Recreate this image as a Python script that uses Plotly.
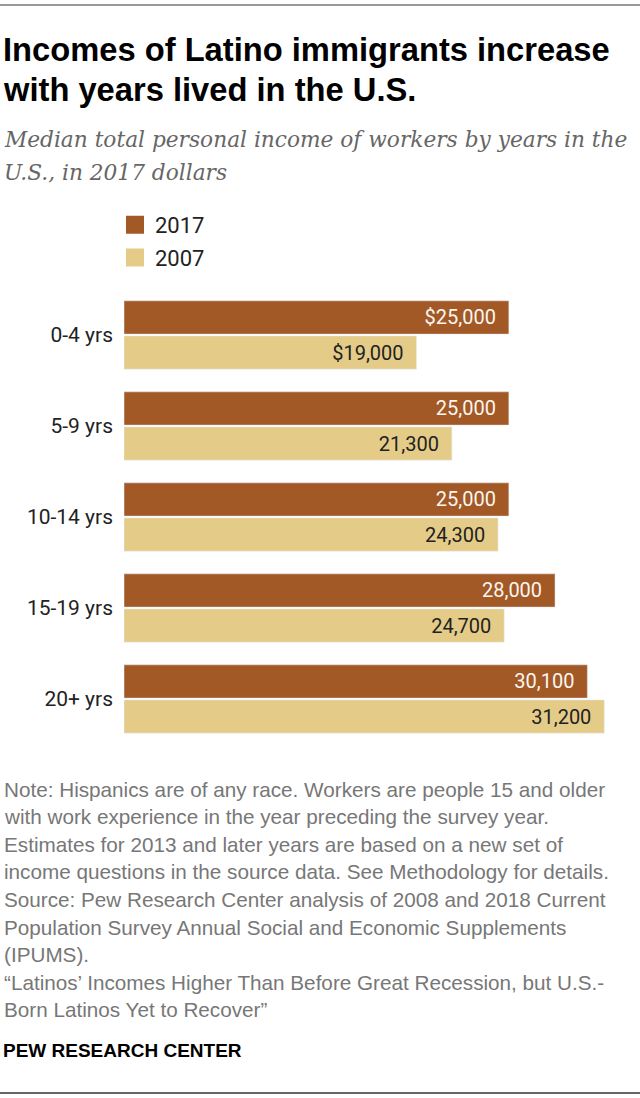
import plotly.graph_objects as go

W, H = 640, 1098

categories = ["0-4 yrs", "5-9 yrs", "10-14 yrs", "15-19 yrs", "20+ yrs"]
income_2017 = [25000, 25000, 25000, 28000, 30100]
income_2007 = [19000, 21300, 24300, 24700, 31200]
labels_2017 = ["$25,000", "25,000", "25,000", "28,000", "30,100"]
labels_2007 = ["$19,000", "21,300", "24,300", "24,700", "31,200"]
series_names = ["2017", "2007"]

title_lines = ["Incomes of Latino immigrants increase", "with years lived in the U.S."]
subtitle_lines = ["Median total personal income of workers by years in the",
                  "U.S., in 2017 dollars"]
note_lines = [
    "Note: Hispanics are of any race. Workers are people 15 and older",
    "with work experience in the year preceding the survey year.",
    "Estimates for 2013 and later years are based on a new set of",
    "income questions in the source data. See Methodology for details.",
    "Source: Pew Research Center analysis of 2008 and 2018 Current",
    "Population Survey Annual Social and Economic Supplements",
    "(IPUMS).",
    "\u201cLatinos\u2019 Incomes Higher Than Before Great Recession, but U.S.-",
    "Born Latinos Yet to Recover\u201d",
]

BROWN = "#a25926"
TAN = "#e4cc88"
SANS = "Roboto, Liberation Sans, sans-serif"
ARIAL = "Liberation Sans, Arial, sans-serif"
SERIF = "DejaVu Serif, Georgia, serif"


def py(px):
    # pixel from top -> paper fraction
    return 1 - px / H


fig = go.Figure()

fig.add_trace(go.Bar(
    y=categories, x=income_2017, orientation="h", name=series_names[0],
    marker=dict(color=BROWN), text=labels_2017, texttemplate="%{text}\u00a0\u00a0",
    textposition="inside", insidetextanchor="end", constraintext="none",
    textfont=dict(family=SANS, size=20, color="#fbf6f0"),
    showlegend=False, hoverinfo="skip"))

fig.add_trace(go.Bar(
    y=categories, x=income_2007, orientation="h", name=series_names[1],
    marker=dict(color=TAN), text=labels_2007, texttemplate="%{text}\u00a0\u00a0",
    textposition="inside", insidetextanchor="end", constraintext="none",
    textfont=dict(family=SANS, size=20, color="#222222"),
    showlegend=False, hoverinfo="skip"))

# legend swatches
for name, col in zip(series_names, [BROWN, TAN]):
    fig.add_trace(go.Scatter(
        x=[None], y=[None], mode="markers", name=name, legendgroup=name,
        marker=dict(symbol="square", size=17, color=col, line=dict(color=col, width=2))))

fig.update_layout(
    width=W, height=H,
    margin=dict(l=0, r=0, t=0, b=0),
    paper_bgcolor="white", plot_bgcolor="white",
    barmode="group", bargap=0.23, bargroupgap=0.05,
    font=dict(family=SANS, color="#222222"),
    legend=dict(
        x=115 / W, y=py(204), xanchor="left", yanchor="top",
        font=dict(family=SANS, size=22, color="#222222"),
        bgcolor="rgba(0,0,0,0)", tracegroupgap=1, traceorder="grouped"),
    xaxis=dict(domain=[124 / W, 632 / W], range=[0, 33000], visible=False, fixedrange=True),
    yaxis=dict(domain=[py(744.5), py(289.5)], type="category", autorange="reversed",
               showgrid=False, showline=False, zeroline=False, ticks="",
               ticklabelstandoff=10, tickfont=dict(family=SANS, size=21, color="#222222"),
               fixedrange=True),
)

annotations = []
for i, line in enumerate(title_lines):
    annotations.append(dict(text="<b>" + line + "</b>", x=2 / W, y=py(49 + i * 40),
                            font=dict(family=ARIAL, size=32.7, color="#000000")))
for i, line in enumerate(subtitle_lines):
    annotations.append(dict(text="<i>" + line + "</i>", x=3 / W, y=py(139 + i * 33),
                            font=dict(family=SERIF, size=21.7, color="#666666")))
for i, line in enumerate(note_lines):
    annotations.append(dict(text=line, x=3 / W, y=py(789 + i * 27.6),
                            font=dict(family=ARIAL, size=20.7, color="#777777")))
annotations.append(dict(text="<b>PEW RESEARCH CENTER</b>", x=2 / W, y=py(1050),
                        font=dict(family=ARIAL, size=19, color="#000000")))

for a in annotations:
    fig.add_annotation(xref="paper", yref="paper", xanchor="left", yanchor="middle",
                       align="left", showarrow=False, borderpad=0, **a)

fig.add_shape(type="line", xref="paper", yref="paper", x0=0, x1=1,
              y0=py(5), y1=py(5), line=dict(color="#999999", width=2))
fig.add_shape(type="line", xref="paper", yref="paper", x0=0, x1=1,
              y0=py(1093), y1=py(1093), line=dict(color="#666666", width=2))

fig.write_html("out.html", config={"displayModeBar": False},
               post_script="document.body.style.margin='0';")
